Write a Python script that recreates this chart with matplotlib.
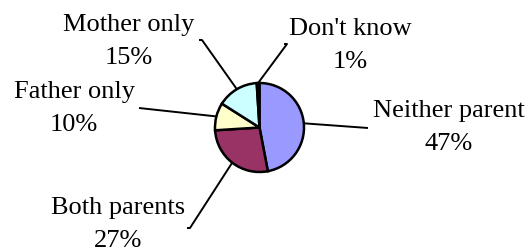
import numpy as np
import matplotlib
matplotlib.use("Agg")
import matplotlib.pyplot as plt

# ---- data ----
categories = ["Neither parent", "Both parents", "Father only", "Mother only", "Don't know"]
values = [47, 27, 10, 15, 1]
colors = ["#9999FF", "#993366", "#FFFFCC", "#CCFFFF", "#660066"]

W, H = 532, 252
fig = plt.figure(figsize=(W / 100, H / 100), dpi=100)
ax = fig.add_axes([0, 0, 1, 1])

def py(y):  # pixel (top-down) -> data y
    return H - y

center = (259.5, py(127.5))
radius = 44.5
wedges, _ = ax.pie(values, colors=colors, startangle=90, counterclock=False,
                   center=center, radius=radius, frame=False,
                   wedgeprops=dict(edgecolor="black", linewidth=1.8))

# label anchor layout (pixel coords): text center x, text top y, leader end, tick end
layout = {
    "Neither parent": dict(tx=449, ty=100, end=(368, 128), tick=None),
    "Both parents": dict(tx=118, ty=197, end=(190, 228), tick=(187, 228)),
    "Father only": dict(tx=74, ty=81, end=(139, 108), tick=None),
    "Mother only": dict(tx=129, ty=14, end=(202, 40), tick=(199, 40)),
    "Don't know": dict(tx=350, ty=18, end=(287, 44), tick=(284, 44)),
}

for w, cat, val in zip(wedges, categories, values):
    mid = np.deg2rad((w.theta1 + w.theta2) / 2)
    sx = center[0] + radius * np.cos(mid)
    sy = center[1] + radius * np.sin(mid)
    L = layout[cat]
    ex, ey = L["end"][0], py(L["end"][1])
    xs, ys = [sx, ex], [sy, ey]
    if L["tick"] is not None:
        xs.append(L["tick"][0]); ys.append(py(L["tick"][1]))
    ax.plot(xs, ys, color="black", lw=1.4, solid_capstyle="butt", zorder=3)
    ax.text(L["tx"], py(L["ty"]), f"{cat}\n{val}%", ha="center", va="top",
            multialignment="center", fontsize=19, family="Liberation Serif",
            linespacing=1.63)

ax.set_xlim(0, W)
ax.set_ylim(0, H)
ax.set_aspect("equal")
ax.axis("off")
fig.savefig("out.png", dpi=100)
